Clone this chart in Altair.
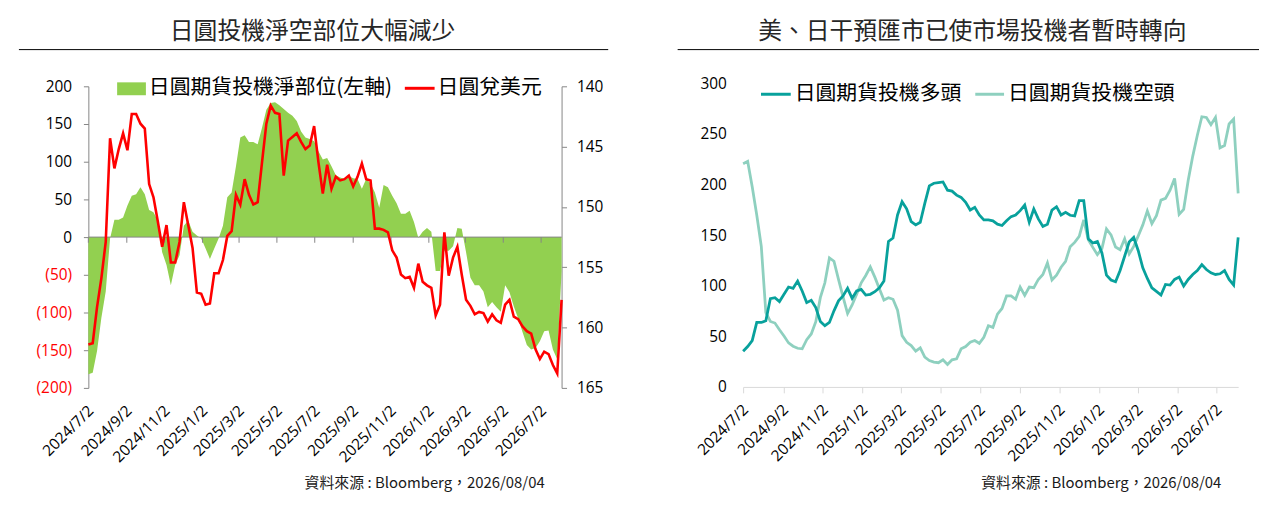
import altair as alt
import pandas as pd

# ---------------- data ----------------
first_week = "2024-07-02"
n_weeks = 110
dates = pd.date_range(first_week, periods=n_weeks, freq="7D")

net_position = [
    -182, -180, -151, -107, -72, -2, 23, 23, 26, 42,
    55, 57, 66, 57, 36, 33, 22, -20, -37, -64,
    -37, -24, 15, 22, 7, 2, -2, -15, -29, -15,
    -2, 15, 53, 59, 94, 132, 135, 126, 126, 123,
    145, 169, 178, 179, 175, 170, 165, 161, 154, 140,
    132, 130, 127, 114, 103, 105, 94, 82, 79, 77,
    81, 78, 77, 64, 77, 71, 59, 39, 69, 66,
    55, 45, 31, 31, 35, 20, -1, 7, 12, 7,
    -45, -45, -18, -18, -12, 12, 11, -20, -54, -64,
    -64, -72, -93, -86, -93, -99, -64, -73, -92, -108,
    -126, -143, -149, -147, -138, -125, -124, -149, -162, -45,
]

usdjpy = [
    161.4, 161.3, 158.3, 155.9, 152.9, 144.3, 146.8, 145.2, 143.9, 145.3,
    142.3, 142.3, 143.1, 143.5, 148.1, 149.2, 151.2, 153.3, 151.5, 154.6,
    154.6, 152.9, 149.6, 151.5, 153.4, 157.1, 157.2, 158.1, 158.0, 155.5,
    155.5, 154.4, 152.4, 152.0, 149.0, 149.8, 147.7, 149.0, 149.8, 149.6,
    146.3, 143.1, 141.6, 142.2, 142.3, 147.4, 144.5, 144.2, 143.9, 144.6,
    145.2, 144.9, 143.3, 146.3, 148.9, 146.5, 148.5, 147.5, 147.8, 147.7,
    147.4, 148.3, 147.5, 146.4, 147.7, 147.8, 151.8, 151.8, 151.9, 152.1,
    153.6, 154.2, 155.6, 155.9, 155.8, 156.7, 154.7, 156.2, 156.5, 156.7,
    159.0, 158.1, 152.1, 155.7, 154.2, 153.3, 155.6, 157.7, 158.2, 158.9,
    158.7, 158.8, 159.5, 158.9, 159.4, 159.6, 158.1, 157.7, 159.1, 159.3,
    159.9, 160.3, 160.5, 161.8, 162.6, 162.0, 162.2, 163.1, 163.8, 157.7,
]

long_pos = [
    35.3, 39.9, 45.8, 63.7, 63.7, 65.4, 87.3, 88.2, 84.3, 91.5,
    98.7, 97.4, 104.6, 94.8, 83.3, 85.6, 78.4, 64.7, 60.5, 63.7,
    75.2, 85.0, 89.9, 97.4, 87.6, 94.8, 96.4, 90.8, 91.5, 94.1,
    98.0, 104.6, 143.8, 147.1, 169.9, 183.0, 176.0, 163.4, 160.1, 162.7,
    181.4, 198.7, 201.3, 202.0, 202.6, 194.4, 193.5, 189.5, 187.3, 182.4,
    174.8, 177.5, 169.9, 165.0, 165.0, 164.1, 160.8, 159.5, 164.1, 168.3,
    169.9, 174.2, 179.7, 162.7, 175.8, 166.0, 158.5, 160.8, 174.8, 178.1,
    169.9, 172.5, 169.6, 169.0, 184.0, 184.0, 146.4, 142.2, 143.8, 132.4,
    110.5, 105.6, 103.9, 115.0, 129.1, 143.1, 147.7, 134.6, 117.6, 107.2,
    98.0, 94.4, 90.8, 101.3, 100.7, 106.2, 108.5, 99.7, 106.2, 111.1,
    115.0, 120.9, 116.0, 112.7, 111.1, 111.8, 115.0, 106.2, 100.7, 147.7,
]

short_pos = [
    220.6, 222.9, 197.7, 169.9, 138.9, 73.5, 64.7, 63.1, 56.5, 50.3,
    43.5, 40.2, 38.2, 37.6, 46.7, 52.3, 64.4, 88.2, 102.9, 127.5,
    124.2, 106.2, 88.9, 72.5, 81.0, 91.5, 102.9, 110.1, 118.6, 108.5,
    97.1, 85.9, 88.2, 86.6, 75.8, 50.7, 44.0, 40.8, 35.3, 38.6,
    29.4, 26.1, 24.5, 23.9, 26.8, 22.2, 26.8, 27.8, 37.6, 39.9,
    44.1, 45.8, 43.1, 49.0, 60.5, 58.8, 71.9, 77.5, 89.9, 89.9,
    86.6, 98.7, 90.5, 98.7, 98.0, 106.2, 111.1, 122.5, 105.6, 110.5,
    118.3, 124.2, 138.4, 142.8, 148.7, 165.0, 145.4, 137.9, 130.7, 136.6,
    156.2, 150.3, 138.2, 135.6, 146.4, 131.4, 138.9, 149.3, 160.1, 173.9,
    161.4, 169.3, 184.6, 186.3, 194.4, 206.0, 170.6, 175.5, 204.2, 228.1,
    248.4, 267.0, 266.3, 259.2, 266.3, 236.3, 238.6, 259.8, 264.7, 191.2,
]

tick_months = [(2024, 7), (2024, 9), (2024, 11), (2025, 1), (2025, 3), (2025, 5),
               (2025, 7), (2025, 9), (2025, 11), (2026, 1), (2026, 3), (2026, 5), (2026, 7)]
net_ticks = [-200, -150, -100, -50, 0, 50, 100, 150, 200]
fx_ticks = [140, 145, 150, 155, 160, 165]
pos_ticks = [0, 50, 100, 150, 200, 250, 300]

title_left = "日圓投機淨空部位大幅減少"
title_right = "美、日干預匯市已使市場投機者暫時轉向"
legend_net = "日圓期貨投機淨部位(左軸)"
legend_fx = "日圓兌美元"
legend_long = "日圓期貨投機多頭"
legend_short = "日圓期貨投機空頭"
source_text = "資料來源 : Bloomberg，2026/08/04"

# ---------------- styling ----------------
CJK = "Noto Sans CJK TC"
NUM = "Open Sans"
GREEN = "#92D050"
RED = "#FF0000"
LONG_C = "#08A19C"
SHORT_C = "#8ED0BF"
AXIS_GRAY = "#868686"

df = pd.DataFrame({"date": dates, "net": net_position, "fx": usdjpy,
                   "long": long_pos, "short": short_pos})
tick_df = pd.DataFrame({"date": [pd.Timestamp(y, m, 2) for y, m in tick_months]})

x_domain = [alt.DateTime(year=2024, month=7, date=2), alt.DateTime(year=2026, month=8, date=4)]
x_values = [alt.DateTime(year=y, month=m, date=2) for y, m in tick_months]


def x_enc(domain_line, tick_color, pad):
    return alt.X(
        "date:T",
        scale=alt.Scale(domain=x_domain, nice=False),
        axis=alt.Axis(values=x_values, format="%Y/%-m/%-d", labelAngle=-45,
                      labelAlign="right", labelBaseline="middle", labelPadding=pad,
                      labelOffset=2,
                      labelFont=NUM, labelFontSize=15.5, labelColor="#000",
                      labelOverlap=False, labelFlush=False,
                      domain=domain_line, domainColor=tick_color,
                      ticks=domain_line, tickColor=tick_color, tickSize=6,
                      grid=False, title=None),
    )


def text_at(text, x, y, size, align="left", color="#000", font=CJK):
    return alt.Chart(pd.DataFrame({"t": [text]})).mark_text(
        align=align, baseline="middle", fontSize=size, font=font, color=color
    ).encode(x=alt.value(x), y=alt.value(y), text="t:N")


def hline(x1, x2, y, color, width):
    return alt.Chart(pd.DataFrame({"a": [0]})).mark_rule(color=color, strokeWidth=width).encode(
        x=alt.value(x1), x2=alt.value(x2), y=alt.value(y))


# ---------------- left panel ----------------
# panel origin sits 3px above the value axes so both panels share a top edge
LW, LH = 477, 307
xl = x_enc(False, AXIS_GRAY, 20)
net_scale = alt.Scale(domain=[-200, 200], range=[LH, 3], nice=False)
net_axis = alt.Axis(
    values=net_ticks,
    labelExpr="datum.value < 0 ? '(' + format(-datum.value, 'd') + ')' : format(datum.value, 'd')",
    labelColor={"condition": {"test": "datum.value < 0", "value": RED}, "value": "#000"},
    labelFont=NUM, labelFontSize=15.5, labelPadding=12, labelOverlap=False,
    domainColor=AXIS_GRAY, tickColor=AXIS_GRAY, tickSize=5,
    grid=False, title=None,
)
area = alt.Chart(df).mark_area(color=GREEN, opacity=1).encode(
    x=xl, y=alt.Y("net:Q", scale=net_scale, axis=net_axis))
zero_rule = alt.Chart(pd.DataFrame({"a": [0]})).mark_rule(color=AXIS_GRAY, strokeWidth=1).encode(
    y=alt.YDatum(0, scale=net_scale, axis=net_axis))
zero_ticks = alt.Chart(tick_df).mark_rule(color=AXIS_GRAY, strokeWidth=1).encode(
    x=xl, y=alt.YDatum(0, scale=net_scale, axis=net_axis), y2=alt.Y2Datum(-7.5))
net_layer = alt.layer(area, zero_rule, zero_ticks)

fx_line = alt.Chart(df).mark_line(color=RED, strokeWidth=2.6).encode(
    x=xl,
    y=alt.Y("fx:Q", scale=alt.Scale(domain=[140, 165], range=[3, LH], nice=False, zero=False),
            axis=alt.Axis(orient="right", values=fx_ticks, labelFont=NUM, labelFontSize=15.5,
                          labelColor="#000", labelPadding=10, labelOverlap=False,
                          domainColor=AXIS_GRAY, tickColor=AXIS_GRAY, tickSize=5,
                          grid=False, title=None)),
)

left_ann = [
    text_at(title_left, 226, -52, 24, align="center", color="#262626"),
    hline(-70, 524, -34, "#000", 1),
    alt.Chart(pd.DataFrame({"a": [0]})).mark_rect(color=GREEN).encode(
        x=alt.value(29), x2=alt.value(58), y=alt.value(-1), y2=alt.value(12)),
    text_at(legend_net, 61, 5, 21),
    hline(319, 349, 5, RED, 3),
    text_at(legend_fx, 352, 5, 21),
    text_at(source_text, 460, 403, 15, align="right", color="#1a1a1a"),
]

left = alt.layer(net_layer, fx_line, *left_ann).resolve_scale(y="independent").properties(
    width=LW, height=LH)

# ---------------- right panel ----------------
RW, RH = 499, 306
xr = x_enc(True, "#D9D9D9", 14)
y_pos = alt.Y(
    "val:Q",
    scale=alt.Scale(domain=[0, 300], nice=False),
    axis=alt.Axis(values=pos_ticks, labelFont=NUM, labelFontSize=15.5, labelColor="#000",
                  labelPadding=17, labelOverlap=False, domain=False, ticks=False,
                  grid=False, title=None),
)
long_line = alt.Chart(df).transform_calculate(val="datum.long").mark_line(
    color=LONG_C, strokeWidth=2.8).encode(x=xr, y=y_pos)
short_line = alt.Chart(df).transform_calculate(val="datum.short").mark_line(
    color=SHORT_C, strokeWidth=2.8).encode(x=xr, y=y_pos)

right_ann = [
    text_at(title_right, 231, -52, 24, align="center", color="#262626"),
    hline(-66, 520, -34, "#000", 1),
    hline(18, 48, 11, LONG_C, 3),
    text_at(legend_long, 52, 11, 21),
    hline(234, 263, 11, SHORT_C, 3),
    text_at(legend_short, 267, 11, 21),
    text_at(source_text, 482, 403, 15, align="right", color="#1a1a1a"),
]

right = alt.layer(short_line, long_line, *right_ann).properties(width=RW, height=RH)

chart = alt.hconcat(left, right, spacing=68).properties(
    padding={"left": 10, "top": 10, "right": 0, "bottom": 0}
).configure_view(stroke=None)

chart.save("out.html", embed_options={"renderer": "svg", "actions": False})
